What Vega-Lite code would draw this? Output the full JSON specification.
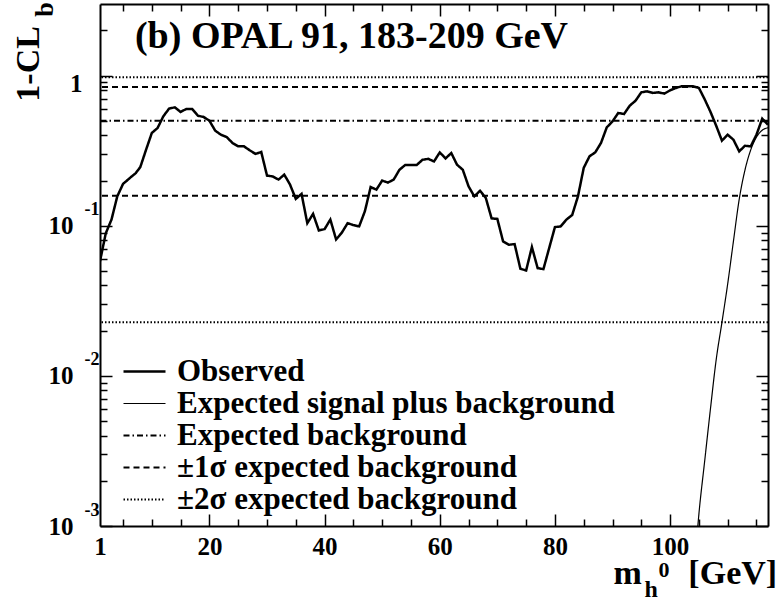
{
  "$schema": "https://vega.github.io/schema/vega-lite/v6.json",
  "width": 668,
  "height": 522,
  "autosize": "none",
  "padding": {"left": 100, "top": 4, "right": 16, "bottom": 77},
  "background": "white",
  "config": {
    "font": "Liberation Serif, Times New Roman, serif",
    "view": {"stroke": null},
    "text": {"font": "Liberation Serif, Times New Roman, serif"},
    "axis": {"grid": false, "domainColor": "black", "tickColor": "black", "labelColor": "black", "labelFont": "Liberation Serif, Times New Roman, serif", "labelFontWeight": "bold", "labelFontSize": 25, "domainWidth": 2, "tickWidth": 1.5, "labelFlush": false, "labelOverlap": false}
  },
  "datasets": {
    "obs": [
      {"series": "Observed", "m": 1, "v": 0.058}, {"series": "Observed", "m": 2, "v": 0.089}, {"series": "Observed", "m": 3, "v": 0.110}, {"series": "Observed", "m": 4, "v": 0.157},
      {"series": "Observed", "m": 5, "v": 0.190}, {"series": "Observed", "m": 6.5, "v": 0.213}, {"series": "Observed", "m": 7.2, "v": 0.224}, {"series": "Observed", "m": 8, "v": 0.246},
      {"series": "Observed", "m": 9, "v": 0.321}, {"series": "Observed", "m": 10, "v": 0.415}, {"series": "Observed", "m": 11, "v": 0.448}, {"series": "Observed", "m": 12, "v": 0.536},
      {"series": "Observed", "m": 13, "v": 0.603}, {"series": "Observed", "m": 14, "v": 0.615}, {"series": "Observed", "m": 15, "v": 0.573}, {"series": "Observed", "m": 16, "v": 0.600},
      {"series": "Observed", "m": 17, "v": 0.600}, {"series": "Observed", "m": 18, "v": 0.541}, {"series": "Observed", "m": 19, "v": 0.530}, {"series": "Observed", "m": 20, "v": 0.501},
      {"series": "Observed", "m": 21, "v": 0.430}, {"series": "Observed", "m": 22, "v": 0.404}, {"series": "Observed", "m": 23, "v": 0.390}, {"series": "Observed", "m": 24, "v": 0.356},
      {"series": "Observed", "m": 25, "v": 0.338}, {"series": "Observed", "m": 26, "v": 0.338}, {"series": "Observed", "m": 27, "v": 0.318}, {"series": "Observed", "m": 28, "v": 0.301},
      {"series": "Observed", "m": 29, "v": 0.310}, {"series": "Observed", "m": 30, "v": 0.216}, {"series": "Observed", "m": 31, "v": 0.213}, {"series": "Observed", "m": 32, "v": 0.203},
      {"series": "Observed", "m": 33, "v": 0.219}, {"series": "Observed", "m": 34, "v": 0.188}, {"series": "Observed", "m": 35, "v": 0.151}, {"series": "Observed", "m": 36, "v": 0.163},
      {"series": "Observed", "m": 37, "v": 0.104}, {"series": "Observed", "m": 38, "v": 0.120}, {"series": "Observed", "m": 39, "v": 0.093}, {"series": "Observed", "m": 40, "v": 0.095},
      {"series": "Observed", "m": 41, "v": 0.110}, {"series": "Observed", "m": 42, "v": 0.081}, {"series": "Observed", "m": 43, "v": 0.090}, {"series": "Observed", "m": 44, "v": 0.104},
      {"series": "Observed", "m": 45, "v": 0.101}, {"series": "Observed", "m": 46, "v": 0.099}, {"series": "Observed", "m": 47, "v": 0.125}, {"series": "Observed", "m": 48, "v": 0.181},
      {"series": "Observed", "m": 49, "v": 0.174}, {"series": "Observed", "m": 50, "v": 0.200}, {"series": "Observed", "m": 51, "v": 0.194}, {"series": "Observed", "m": 52, "v": 0.203},
      {"series": "Observed", "m": 53, "v": 0.236}, {"series": "Observed", "m": 54, "v": 0.254}, {"series": "Observed", "m": 55, "v": 0.254}, {"series": "Observed", "m": 56, "v": 0.254},
      {"series": "Observed", "m": 57, "v": 0.275}, {"series": "Observed", "m": 58, "v": 0.279}, {"series": "Observed", "m": 59, "v": 0.268}, {"series": "Observed", "m": 60, "v": 0.308},
      {"series": "Observed", "m": 61, "v": 0.281}, {"series": "Observed", "m": 62, "v": 0.305}, {"series": "Observed", "m": 63, "v": 0.255}, {"series": "Observed", "m": 64, "v": 0.236},
      {"series": "Observed", "m": 65, "v": 0.183}, {"series": "Observed", "m": 66, "v": 0.157}, {"series": "Observed", "m": 67, "v": 0.171}, {"series": "Observed", "m": 68, "v": 0.153},
      {"series": "Observed", "m": 69, "v": 0.112}, {"series": "Observed", "m": 70, "v": 0.111}, {"series": "Observed", "m": 71, "v": 0.0786}, {"series": "Observed", "m": 72, "v": 0.0747},
      {"series": "Observed", "m": 73, "v": 0.0755}, {"series": "Observed", "m": 74, "v": 0.0517}, {"series": "Observed", "m": 75, "v": 0.0504}, {"series": "Observed", "m": 76, "v": 0.0721},
      {"series": "Observed", "m": 77, "v": 0.0522}, {"series": "Observed", "m": 78, "v": 0.0514}, {"series": "Observed", "m": 79, "v": 0.0710}, {"series": "Observed", "m": 80, "v": 0.098},
      {"series": "Observed", "m": 81, "v": 0.099}, {"series": "Observed", "m": 82, "v": 0.110}, {"series": "Observed", "m": 83, "v": 0.118}, {"series": "Observed", "m": 84, "v": 0.157},
      {"series": "Observed", "m": 85, "v": 0.243}, {"series": "Observed", "m": 86, "v": 0.290}, {"series": "Observed", "m": 87, "v": 0.308}, {"series": "Observed", "m": 88, "v": 0.356},
      {"series": "Observed", "m": 89, "v": 0.452}, {"series": "Observed", "m": 90, "v": 0.496}, {"series": "Observed", "m": 91, "v": 0.564}, {"series": "Observed", "m": 92, "v": 0.555},
      {"series": "Observed", "m": 93, "v": 0.631}, {"series": "Observed", "m": 94, "v": 0.681}, {"series": "Observed", "m": 95, "v": 0.774}, {"series": "Observed", "m": 96, "v": 0.786},
      {"series": "Observed", "m": 97, "v": 0.767}, {"series": "Observed", "m": 98, "v": 0.774}, {"series": "Observed", "m": 99, "v": 0.759}, {"series": "Observed", "m": 100, "v": 0.798},
      {"series": "Observed", "m": 101, "v": 0.828}, {"series": "Observed", "m": 102, "v": 0.849}, {"series": "Observed", "m": 103, "v": 0.849}, {"series": "Observed", "m": 104, "v": 0.849},
      {"series": "Observed", "m": 105, "v": 0.828}, {"series": "Observed", "m": 106, "v": 0.696}, {"series": "Observed", "m": 107, "v": 0.575}, {"series": "Observed", "m": 108, "v": 0.464},
      {"series": "Observed", "m": 109, "v": 0.369}, {"series": "Observed", "m": 110, "v": 0.404}, {"series": "Observed", "m": 111, "v": 0.374}, {"series": "Observed", "m": 112, "v": 0.313},
      {"series": "Observed", "m": 113, "v": 0.341}, {"series": "Observed", "m": 114, "v": 0.338}, {"series": "Observed", "m": 115, "v": 0.404}, {"series": "Observed", "m": 116, "v": 0.517},
      {"series": "Observed", "m": 117, "v": 0.471}
    ],
    "exp": [
      {"series": "Expected signal plus background", "m": 104.6, "v": 0.0008},
      {"series": "Expected signal plus background", "m": 105, "v": 0.0012},
      {"series": "Expected signal plus background", "m": 106, "v": 0.0027},
      {"series": "Expected signal plus background", "m": 107, "v": 0.0060},
      {"series": "Expected signal plus background", "m": 108, "v": 0.0128},
      {"series": "Expected signal plus background", "m": 109, "v": 0.0227},
      {"series": "Expected signal plus background", "m": 110, "v": 0.041},
      {"series": "Expected signal plus background", "m": 111, "v": 0.079},
      {"series": "Expected signal plus background", "m": 112, "v": 0.15},
      {"series": "Expected signal plus background", "m": 113, "v": 0.235},
      {"series": "Expected signal plus background", "m": 114, "v": 0.32},
      {"series": "Expected signal plus background", "m": 115, "v": 0.39},
      {"series": "Expected signal plus background", "m": 116, "v": 0.433},
      {"series": "Expected signal plus background", "m": 117, "v": 0.45}
    ],
    "refs": [
      {"series": "Expected background", "v": 0.5},
      {"series": "±1σ expected background", "v": 0.8413},
      {"series": "±1σ expected background", "v": 0.1587},
      {"series": "±2σ expected background", "v": 0.9772},
      {"series": "±2σ expected background", "v": 0.02275}
    ]
  },
  "resolve": {"axis": {"x": "independent", "y": "independent"}},
  "layer": [
    {
      "data": {"name": "obs"},
      "mark": {"type": "line", "clip": true, "color": "black", "strokeWidth": 2.5},
      "encoding": {
        "x": {"field": "m", "type": "quantitative", "scale": {"domain": [1, 117], "nice": false, "zero": false},
          "axis": {"orient": "bottom", "values": [1, 20, 40, 60, 80, 100], "ticks": false, "labelPadding": 8, "title": null, "domain": true}},
        "y": {"field": "v", "type": "quantitative", "scale": {"type": "log", "domain": [0.001, 3], "nice": false},
          "axis": {"orient": "left", "values": [0.001, 0.01, 0.1], "ticks": false, "labelPadding": 27, "labelExpr": "'10'", "title": null, "domain": true}},
        "strokeDash": {"field": "series", "type": "nominal",
          "scale": {"domain": ["Observed", "Expected signal plus background", "Expected background", "±1σ expected background", "±2σ expected background"],
            "range": [[1, 0], [1, 0], [6, 3, 1.5, 3], [6, 4], [1.5, 2]]},
          "legend": {"orient": "none", "legendX": 29, "legendY": 352, "title": null, "padding": 0, "rowPadding": 0,
            "symbolType": "M-3,0H3", "symbolSize": 196, "symbolStrokeColor": "black", "symbolStrokeWidth": 2,
            "labelFont": "Liberation Serif, Times New Roman, serif", "labelFontWeight": "bold", "labelFontSize": 31, "labelColor": "black", "labelOffset": 17, "labelLimit": 0,
            "encode": {"symbols": {"update": {"strokeWidth": {"signal": "datum.label === 'Observed' ? 2.5 : datum.label === 'Expected signal plus background' ? 1.2 : 2"}}}}}}
      }
    },
    {
      "data": {"name": "exp"},
      "mark": {"type": "line", "clip": true, "color": "black", "strokeWidth": 1.2, "interpolate": "monotone"},
      "encoding": {
        "x": {"field": "m", "type": "quantitative",
          "axis": {"orient": "bottom", "values": [20, 40, 60, 80, 100], "tickSize": -12, "labels": false, "domain": false, "title": null}},
        "y": {"field": "v", "type": "quantitative",
          "axis": {"orient": "left", "values": [0.001, 0.01, 0.1], "ticks": false, "domain": false, "labelPadding": 1, "labelFontSize": 18, "labelOffset": -16,
            "labelExpr": "'-' + round(-log(datum.value) / LN10)", "title": null}},
        "strokeDash": {"field": "series", "type": "nominal"}
      }
    },
    {
      "data": {"name": "refs"},
      "mark": {"type": "rule", "color": "black", "strokeWidth": 2},
      "encoding": {
        "y": {"field": "v", "type": "quantitative",
          "axis": {"orient": "left", "values": [0.001, 0.01, 0.1, 1], "tickSize": -12, "labels": false, "domain": false, "title": null}},
        "strokeDash": {"field": "series", "type": "nominal"}
      }
    },
    {
      "data": {"values": [{}]},
      "mark": {"type": "text", "text": "(b) OPAL 91, 183-209 GeV", "font": "Liberation Serif, Times New Roman, serif", "fontWeight": "bold", "fontSize": 38, "align": "left", "baseline": "alphabetic", "color": "black"},
      "encoding": {
        "x": {"datum": 7.07, "type": "quantitative",
          "axis": {"orient": "bottom", "values": [5, 10, 15, 25, 30, 35, 45, 50, 55, 65, 70, 75, 85, 90, 95, 105, 110, 115], "tickSize": -7, "labels": false, "domain": false, "title": null}},
        "y": {"datum": 1.537, "type": "quantitative",
          "axis": {"orient": "left", "values": [0.002, 0.003, 0.004, 0.005, 0.006, 0.007, 0.008, 0.009, 0.02, 0.03, 0.04, 0.05, 0.06, 0.07, 0.08, 0.09, 0.2, 0.3, 0.4, 0.5, 0.6, 0.7, 0.8, 0.9, 2], "tickSize": -7, "labels": false, "domain": false, "title": null}}
      }
    },
    {
      "data": {"values": [{}]},
      "mark": {"type": "text", "text": "m", "font": "Liberation Serif, Times New Roman, serif", "fontWeight": "bold", "fontSize": 34, "align": "left", "baseline": "alphabetic", "color": "black"},
      "encoding": {
        "x": {"datum": 90.16, "type": "quantitative",
          "axis": {"orient": "top", "values": [20, 40, 60, 80, 100], "tickSize": -12, "labels": false, "domain": true, "title": null}},
        "y": {"datum": 0.00041, "type": "quantitative",
          "axis": {"orient": "right", "values": [0.001, 0.01, 0.1, 1], "tickSize": -12, "labels": false, "domain": true, "title": null}}
      }
    },
    {
      "data": {"values": [{}]},
      "mark": {"type": "text", "text": "[GeV]", "font": "Liberation Serif, Times New Roman, serif", "fontWeight": "bold", "fontSize": 34, "align": "left", "baseline": "alphabetic", "color": "black"},
      "encoding": {
        "x": {"datum": 103.17, "type": "quantitative",
          "axis": {"orient": "top", "values": [5, 10, 15, 25, 30, 35, 45, 50, 55, 65, 70, 75, 85, 90, 95, 105, 110, 115], "tickSize": -7, "labels": false, "domain": false, "title": null}},
        "y": {"datum": 0.00041, "type": "quantitative",
          "axis": {"orient": "right", "values": [0.002, 0.003, 0.004, 0.005, 0.006, 0.007, 0.008, 0.009, 0.02, 0.03, 0.04, 0.05, 0.06, 0.07, 0.08, 0.09, 0.2, 0.3, 0.4, 0.5, 0.6, 0.7, 0.8, 0.9, 2], "tickSize": -7, "labels": false, "domain": false, "title": null}}
      }
    },
    {
      "data": {"values": [{}]},
      "mark": {"type": "text", "text": "h", "font": "Liberation Serif, Times New Roman, serif", "fontWeight": "bold", "fontSize": 24, "align": "left", "baseline": "alphabetic", "color": "black"},
      "encoding": {
        "x": {"datum": 95.54, "type": "quantitative", "axis": null},
        "y": {"datum": 0.000336, "type": "quantitative",
          "axis": {"orient": "left", "values": [1], "ticks": false, "domain": false, "labelPadding": 18, "labelOffset": 8, "labelExpr": "'1'", "title": null}}
      }
    },
    {
      "data": {"values": [{}]},
      "mark": {"type": "text", "text": "0", "font": "Liberation Serif, Times New Roman, serif", "fontWeight": "bold", "fontSize": 22, "align": "left", "baseline": "alphabetic", "color": "black"},
      "encoding": {
        "x": {"datum": 97.97, "type": "quantitative", "axis": null},
        "y": {"datum": 0.000457, "type": "quantitative", "axis": null}
      }
    },
    {
      "data": {"values": [{}]},
      "mark": {"type": "text", "text": "1-CL", "font": "Liberation Serif, Times New Roman, serif", "fontWeight": "bold", "fontSize": 34, "align": "left", "baseline": "alphabetic", "angle": 270, "color": "black"},
      "encoding": {
        "x": {"datum": -9.58, "type": "quantitative", "axis": null},
        "y": {"datum": 0.671, "type": "quantitative", "axis": null}
      }
    },
    {
      "data": {"values": [{}]},
      "mark": {"type": "text", "text": "b", "font": "Liberation Serif, Times New Roman, serif", "fontWeight": "bold", "fontSize": 26, "align": "left", "baseline": "alphabetic", "angle": 270, "color": "black"},
      "encoding": {
        "x": {"datum": -7.15, "type": "quantitative", "axis": null},
        "y": {"datum": 2.47, "type": "quantitative", "axis": null}
      }
    }
  ]
}
